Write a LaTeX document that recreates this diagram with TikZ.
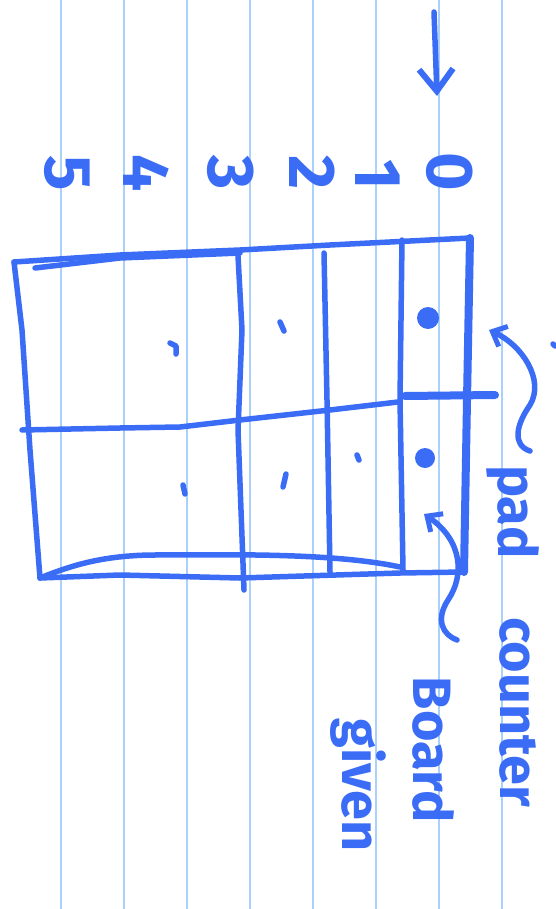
\documentclass[tikz,border=0pt]{standalone}
\usepackage{fontspec}
\setmainfont{Fira Sans}
\usetikzlibrary{arrows.meta, positioning, calc}
\definecolor{inkblue}{HTML}{3A6CF6}
\definecolor{ruleblue}{HTML}{A9D1FB}
\tikzset{
	ink/.style={draw=inkblue, line width=5.5pt, line cap=round, line join=round},
	heavyink/.style={ink, line width=8pt},
	digit/.style={text=inkblue, font=\bfseries\fontsize{66}{66}\selectfont, rotate=-90, inner sep=0pt},
	note/.style={text=inkblue, font=\bfseries\fontsize{54}{54}\selectfont, rotate=-90, inner sep=0pt},
	arrow/.style={ink, -{Straight Barb[length=12pt, width=22pt, line width=5pt]}},
	bigarrow/.style={ink, -{Straight Barb[length=22pt, width=34pt, line width=6pt]}},
	ruling/.style={draw=ruleblue, line width=1.6pt}
}

\begin{document}
\begin{tikzpicture}[x=1pt, y=-1pt]
	\useasboundingbox (0,0) rectangle (556,909);

	% ruled paper
	\foreach \k in {0,...,7}
		\draw [ruling] ({61+63*\k},0) -- ({61+63*\k},909);

	% index labels
	\node (d5) [digit] at (67,173) {5};
	\node (d4) [digit] at (146,173) {4};
	\node (d3) [digit] at (231,173) {3};
	\node (d2) [digit] at (312,173) {2};
	\node (d1) [digit] at (378,175) {1};
	\node (d0) [digit] at (450,172) {0};

	% arrow down to index 0
	\coordinate (start) at (434,12);
	\coordinate (startend) at (437,96);
	\draw [bigarrow] (start) -- (startend);

	% table corners
	\coordinate (nw) at (14,262);
	\coordinate (ne) at (470,238);
	\coordinate (se) at (464,572);
	\coordinate (sw) at (40,578);

	% outer frame
	\draw [ink] (nw) -- (120,255) -- (240,250) -- (330,245) -- (ne);
	\draw [ink] (35,268) -- (120,258) -- (240,253);
	\draw [ink] (nw) -- (22,330) -- (30,450) -- (sw);
	\draw [ink] (sw) -- (120,575) -- (240,578) -- (400,573) -- (se);
	\draw [ink] (sw) .. controls (70,566) and (100,556) .. (150,555)
		.. controls (220,555) and (330,552) .. (400,567);
	\draw [heavyink] (ne) -- (467,400) -- (se);

	% columns
	\draw [ink] (238,256) -- (242,330) -- (238,430) -- (244,590);
	\draw [ink] (324,253) -- (327,400) -- (330,572);
	\draw [ink] (402,240) -- (400,400) -- (403,570);

	% rows
	\draw [ink] (22,430) -- (120,428) -- (180,427) -- (240,420) -- (330,410) -- (398,402);
	\draw [heavyink] (405,396) -- (495,395);

	% base cases
	\fill [inkblue] (428,318) circle (11pt);
	\fill [inkblue] (425,458) circle (10pt);

	% filled cells
	\draw [ink] (170,343) -- (176,346) -- (176,354);
	\draw [ink] (280,322) -- (284,331);
	\draw [ink] (183,485) -- (185,494);
	\draw [ink] (286,474) -- (283,487);
	\draw [ink] (357,455) -- (359,460);
	\draw [ink] (553,344) -- (555,346);

	% labels
	\node (pad) [note] at (513,512) {pad};
	\node (counter) [note] at (518,712) {counter};
	\node (board) [note] at (434,750) {Board};
	\node (given) [note] at (358,785) {given};

	% pointers into the table
	\coordinate (padtail) at (530,451);
	\coordinate (padtip) at (489,330);
	\draw [arrow] (padtail) .. controls (512,445) and (516,425) .. (530,405)
		.. controls (545,380) and (522,345) .. (padtip);
	\coordinate (boardtail) at (457,640);
	\coordinate (boardtip) at (424,514);
	\draw [arrow] (boardtail) .. controls (443,635) and (435,620) .. (448,600)
		.. controls (465,575) and (462,540) .. (boardtip);
\end{tikzpicture}
\end{document}
